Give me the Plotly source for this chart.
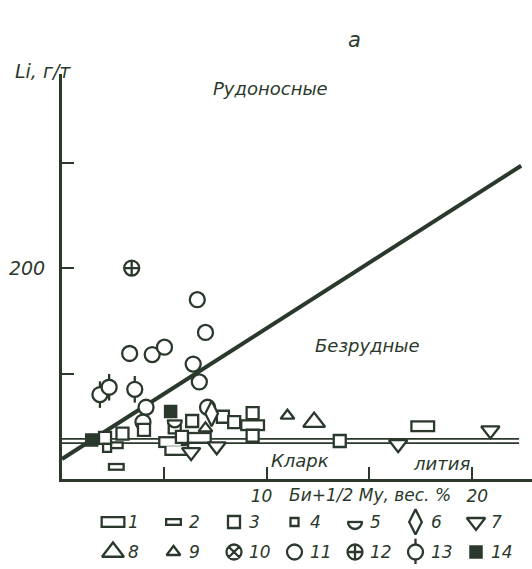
import plotly.graph_objects as go

# ---------------- data ----------------
# series by sample type (x = Би+1/2 Му, вес. %, y = Li, г/т)
t1_x = [5.3, 5.6, 6.7, 9.3, 17.6]
t1_y = [35, 27.5, 39, 51, 50]
t2_x = [2.6, 2.65]
t2_y = [32, 11.5]
t3_x = [2.1, 2.95, 4.0, 5.5, 5.85, 6.35, 7.85, 8.4, 9.3, 9.3, 13.55]
t3_y = [39, 43, 46.5, 49, 40, 55, 59, 54, 62.5, 41, 36]
t4_x = [2.2]
t4_y = [29.5]
t5_x = [5.5]
t5_y = [55.5]
t6_x = [7.3]
t6_y = [62]
t7_x = [6.3, 7.55, 16.4, 20.9]
t7_y = [25.5, 31, 33, 46]
t8_x = [12.3]
t8_y = [54]
t9_x = [7.0, 11.0]
t9_y = [48, 60]
t10_x = []
t10_y = []
t11_x = [6.6, 7.0, 3.3, 4.4, 5.0, 6.4, 6.7, 4.1, 3.95, 7.1]
t11_y = [170, 139, 119, 118, 125, 109, 92, 68, 54, 68]
t12_x = [3.4]
t12_y = [200]
t13_x = [1.85, 2.3, 3.55]
t13_y = [80, 87, 85]
t14_x = [1.45, 5.3]
t14_y = [37, 64]

# boundary line between ore-bearing and barren granites
reg_x = [0.0, 22.4]
reg_y = [19, 297]
# Clarke of lithium (double line)
clarke_x = [0.0, 22.3]
clarke_levels = [34.0, 38.0]

NB = "\u00a0"
x_ticks = [5, 10, 15, 20]
x_ticktext = ["", "10" + NB * 2, "", NB * 2 + "20"]
y_ticks = [100, 200, 300]
y_ticktext = ["", "200", ""]
legend_labels = [str(i) for i in range(1, 15)]

# ---------------- styling ----------------
INK = "#2b392d"
FONT = "DejaVu Sans"
LW = 2.3
fig = go.Figure()


def sc(xs, ys, xa, ya, **marker):
    fig.add_trace(go.Scatter(x=xs, y=ys, mode="markers", xaxis=xa, yaxis=ya,
                             marker=marker, hoverinfo="skip", showlegend=False))


def draw(kind, xs, ys, xa="x", ya="y"):
    if not xs:
        return
    if kind in (1, 2):
        L, H = (25, 12) if kind == 1 else (17, 8)
        sc(xs, ys, xa, ya, symbol="line-ew-open", size=L / 1.4, color=INK,
           line=dict(width=H, color=INK))
        sc(xs, ys, xa, ya, symbol="line-ew-open", size=(L - 2 * LW) / 1.4, color="white",
           line=dict(width=H - 2 * LW, color="white"))
    elif kind in (3, 4):
        sc(xs, ys, xa, ya, symbol="square", size=12 if kind == 3 else 8, color="white",
           line=dict(width=LW, color=INK))
    elif kind == 14:
        sc(xs, ys, xa, ya, symbol="square", size=12, color=INK, line=dict(width=1.5, color=INK))
    elif kind == 5:
        sc(xs, ys, xa, ya, symbol="circle", size=14, color="white", line=dict(width=LW, color=INK))
        sc(xs, ys, xa, ya, symbol="line-ew-open", size=13, color="white",
           line=dict(width=9, color="white"), angle=180, standoff=4.5)
        sc(xs, ys, xa, ya, symbol="line-ew-open", size=15.5 / 1.4, color=INK,
           line=dict(width=LW, color=INK))
    elif kind == 6:
        sc(xs, ys, xa, ya, symbol="diamond-tall", size=18, color="white", line=dict(width=LW, color=INK))
    elif kind == 7:
        sc(xs, ys, xa, ya, symbol="triangle-down", size=16, color="white", line=dict(width=LW, color=INK))
    elif kind == 8:
        sc(xs, ys, xa, ya, symbol="triangle-up", size=19, color="white", line=dict(width=LW, color=INK))
    elif kind == 9:
        sc(xs, ys, xa, ya, symbol="triangle-up", size=12, color="white", line=dict(width=LW, color=INK))
    elif kind == 10:
        sc(xs, ys, xa, ya, symbol="circle-x", size=15, color="white", line=dict(width=LW, color=INK))
    elif kind == 11:
        sc(xs, ys, xa, ya, symbol="circle", size=15, color="white", line=dict(width=LW, color=INK))
    elif kind == 12:
        sc(xs, ys, xa, ya, symbol="circle-cross", size=15, color="white", line=dict(width=LW, color=INK))
    elif kind == 13:
        sc(xs, ys, xa, ya, symbol="line-ns-open", size=19, color=INK, line=dict(width=LW, color=INK))
        sc(xs, ys, xa, ya, symbol="circle", size=15, color="white", line=dict(width=LW, color=INK))


# lines
fig.add_trace(go.Scatter(x=reg_x, y=reg_y, mode="lines", line=dict(color=INK, width=4),
                         hoverinfo="skip", showlegend=False))
for lv in clarke_levels:
    fig.add_trace(go.Scatter(x=clarke_x, y=[lv, lv], mode="lines", line=dict(color=INK, width=1.6),
                             hoverinfo="skip", showlegend=False))

series = {1: (t1_x, t1_y), 2: (t2_x, t2_y), 3: (t3_x, t3_y), 4: (t4_x, t4_y),
          5: (t5_x, t5_y), 6: (t6_x, t6_y), 7: (t7_x, t7_y), 8: (t8_x, t8_y),
          9: (t9_x, t9_y), 10: (t10_x, t10_y), 11: (t11_x, t11_y), 12: (t12_x, t12_y),
          13: (t13_x, t13_y), 14: (t14_x, t14_y)}
for k in [11, 13, 12, 10, 1, 2, 3, 4, 5, 14, 6, 7, 8, 9]:
    draw(k, *series[k])

tf = dict(family=FONT, color=INK, style="italic")

# legend drawn on an auxiliary axis (x2 in px, y2 in rows)
annotations = []
for i, lab in enumerate(legend_labels):
    col, row = i % 7, i // 7
    lx = 51 + 60.5 * col
    ly = -row
    draw(i + 1, [lx], [ly], "x2", "y2")
    annotations.append(dict(x=lx + 13, y=ly, xref="x2", yref="y2", text=lab, showarrow=False,
                            xanchor="left", yanchor="middle", font=dict(size=17, **tf)))

annotations += [
    dict(x=0.623, y=1.069, xref="paper", yref="paper", text="а", showarrow=False,
         xanchor="center", yanchor="middle", font=dict(size=21, **tf)),
    dict(x=-0.04, y=1.006, xref="paper", yref="paper", text="Li, г/т", showarrow=False,
         xanchor="center", yanchor="middle", font=dict(size=19, **tf)),
    dict(x=10.15, y=370, xref="x", yref="y", text="Рудоносные", showarrow=False,
         xanchor="center", yanchor="middle", font=dict(size=18, **tf)),
    dict(x=14.9, y=127, xref="x", yref="y", text="Безрудные", showarrow=False,
         xanchor="center", yanchor="middle", font=dict(size=18, **tf)),
    dict(x=11.6, y=18, xref="x", yref="y", text="Кларк", showarrow=False,
         xanchor="center", yanchor="middle", font=dict(size=18, **tf)),
    dict(x=18.5, y=15, xref="x", yref="y", text="лития", showarrow=False,
         xanchor="center", yanchor="middle", font=dict(size=18, **tf)),
    dict(x=15.05, y=0.141, xref="x", yref="paper", text="Би+1/2 Му, вес. %", showarrow=False,
         xanchor="center", yanchor="middle", font=dict(size=17, **tf)),
]

fig.update_layout(
    width=532, height=569,
    margin=dict(l=62, r=0, t=74, b=5),
    paper_bgcolor="white", plot_bgcolor="white",
    showlegend=False,
    annotations=annotations,
    xaxis=dict(domain=[0, 1], range=[0, 22.93], anchor="y", showline=True, linewidth=3,
               linecolor=INK, ticks="inside", ticklen=12, tickwidth=2, tickcolor=INK,
               tickvals=x_ticks, ticktext=x_ticktext, showgrid=False, zeroline=False,
               tickfont=dict(size=17, **tf)),
    yaxis=dict(domain=[0.1735, 1], range=[0, 384], anchor="x", showline=True, linewidth=3,
               linecolor=INK, ticks="inside", ticklen=12, tickwidth=2, tickcolor=INK,
               tickvals=y_ticks, ticktext=y_ticktext, showgrid=False, zeroline=False,
               ticklabelstandoff=10, tickfont=dict(size=19, **tf)),
    xaxis2=dict(domain=[0, 1], range=[0, 470], anchor="y2", visible=False),
    yaxis2=dict(domain=[0, 0.1735], range=[-1.4, 1.433], anchor="x2", visible=False),
)

fig.write_html("out.html")
